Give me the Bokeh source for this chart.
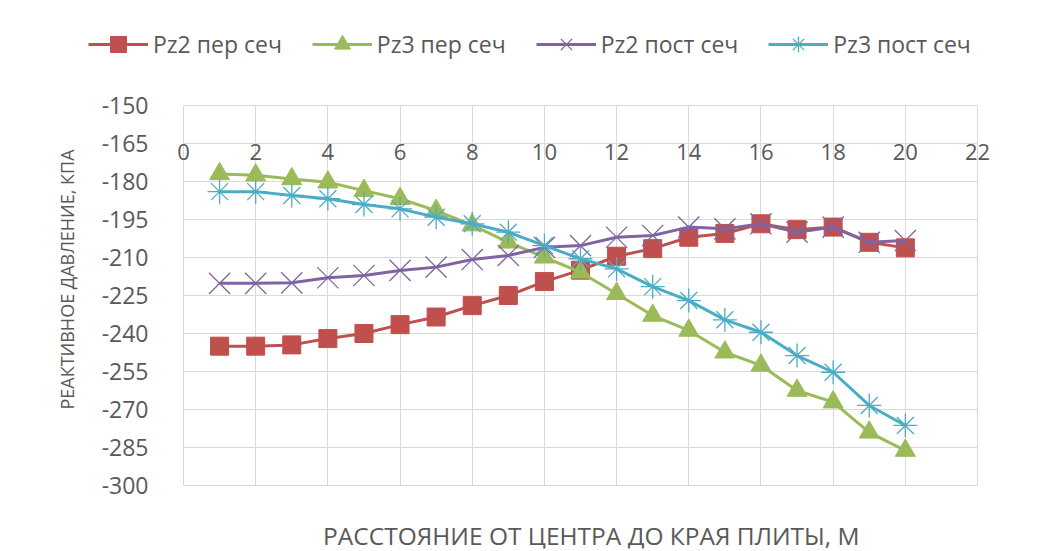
from bokeh.plotting import figure
from bokeh.models import FixedTicker, Legend, Label, Range1d, PrintfTickFormatter
from bokeh.embed import file_html
from bokeh.resources import INLINE

x = list(range(1, 21))
pz2_per = [-245, -245, -244.5, -242, -240, -236.5, -233.5, -229, -225, -219.5,
           -215, -209.5, -206.5, -202, -200.5, -196.7, -199, -198, -204, -206.2]
pz3_per = [-177, -177.5, -179, -180.3, -183.6, -186.8, -191.5, -197.2, -204, -209.9,
           -215.8, -224.3, -232.9, -238.8, -247.4, -252.6, -262.5, -267.1, -279, -286.2]
pz2_post = [-220.2, -220.2, -220, -218, -217.1, -215.1, -213.8, -210.8, -209.2, -206,
            -205.3, -202, -201.3, -198, -198.7, -196.7, -200, -198, -204, -203.3]
pz3_post = [-184, -184, -185.5, -186.8, -189.1, -190.8, -194.1, -196.7, -200, -205.3,
            -210.5, -214.5, -221.5, -227, -234.6, -239.5, -248.7, -255.3, -268.4, -276.3]
names = ["Pz2 пер сеч", "Pz3 пер сеч", "Pz2 пост сеч", "Pz3 пост сеч"]
colors = ["#C0504D", "#9BBB59", "#8064A2", "#4BACC6"]
x_ticks = list(range(0, 23, 2))
y_ticks = list(range(-300, -149, 15))
x_title = "РАССТОЯНИЕ ОТ ЦЕНТРА ДО КРАЯ ПЛИТЫ, М"
y_title = "РЕАКТИВНОЕ ДАВЛЕНИЕ, КПА"

FONT = "Open Sans"
TXT = "#595959"
GRID = "#d9d9d9"

# frame spans most of the canvas; the grid box (0..22, -300..-150) sits inside it
p = figure(width=1040, height=551, output_backend="svg", toolbar_location=None,
           x_range=Range1d(-3.962, 23.468), y_range=Range1d(-324.87, -112.5),
           min_border_left=40, min_border_right=10, min_border_top=10, min_border_bottom=3)
p.outline_line_color = None

series = [pz2_per, pz3_per, pz2_post, pz3_post]
markers = ["square", "triangle", "x", "asterisk"]
sizes = [18, 20, 30, 24]
items = []
for ys, c, m, s, n in zip(series, colors, markers, sizes, names):
    r1 = p.line(x, ys, line_color=c, line_width=3)
    if m in ("square", "triangle"):
        r2 = p.scatter(x, ys, marker=m, size=s, fill_color=c, line_color=c)
    else:
        r2 = p.scatter(x, ys, marker=m, size=s, line_color=c, line_width=1.3)
    items.append((n, [r1, r2]))

legend = Legend(items=items, orientation="horizontal", location=(48, 484),
                glyph_width=60, glyph_height=40, label_standoff=5, spacing=30,
                padding=0, margin=0, border_line_color=None, background_fill_alpha=0,
                label_text_font=FONT, label_text_font_size="23px", label_text_color=TXT)
p.add_layout(legend, "center")

p.xaxis.ticker = FixedTicker(ticks=x_ticks)
p.xaxis.fixed_location = -162.5
p.xaxis.axis_line_color = None
p.xaxis.major_tick_line_color = None
p.xaxis.minor_tick_line_color = None
p.xaxis.major_label_standoff = 1
p.xaxis.major_label_text_font = FONT
p.xaxis.major_label_text_font_size = "22px"
p.xaxis.major_label_text_color = TXT

p.yaxis.ticker = FixedTicker(ticks=y_ticks)
p.yaxis.formatter = PrintfTickFormatter(format="%d")
p.yaxis.fixed_location = 0
p.yaxis.axis_line_color = None
p.yaxis.major_tick_line_color = None
p.yaxis.minor_tick_line_color = None
p.yaxis.major_label_standoff = 29
p.yaxis.major_label_text_font = FONT
p.yaxis.major_label_text_font_size = "23px"
p.yaxis.major_label_text_color = TXT
p.yaxis.axis_label = y_title
p.yaxis.axis_label_text_font = FONT
p.yaxis.axis_label_text_font_size = "18px"
p.yaxis.axis_label_text_font_style = "normal"
p.yaxis.axis_label_text_color = TXT
p.yaxis.axis_label_standoff = 20

p.add_layout(Label(x=11.3, y=13, y_units="screen", text=x_title,
                   text_align="center", text_baseline="middle",
                   text_font=FONT, text_font_size="24.5px", text_color=TXT))

p.xgrid.ticker = FixedTicker(ticks=x_ticks)
p.ygrid.ticker = FixedTicker(ticks=y_ticks)
gx = p.xgrid[0]
gy = p.ygrid[0]
if "cross_bounds" in gx.properties():
    gx.grid_line_color = GRID
    gy.grid_line_color = GRID
    gx.cross_bounds = (-300, -150)
    gy.cross_bounds = (0, 22)
else:
    gx.grid_line_color = None
    gy.grid_line_color = None
    p.segment(x0=x_ticks, x1=x_ticks, y0=[y_ticks[0]] * len(x_ticks), y1=[y_ticks[-1]] * len(x_ticks),
              line_color=GRID, line_width=1, level="underlay")
    p.segment(x0=[x_ticks[0]] * len(y_ticks), x1=[x_ticks[-1]] * len(y_ticks), y0=y_ticks, y1=y_ticks,
              line_color=GRID, line_width=1, level="underlay")

open("out.html", "w").write(file_html(p, INLINE))
